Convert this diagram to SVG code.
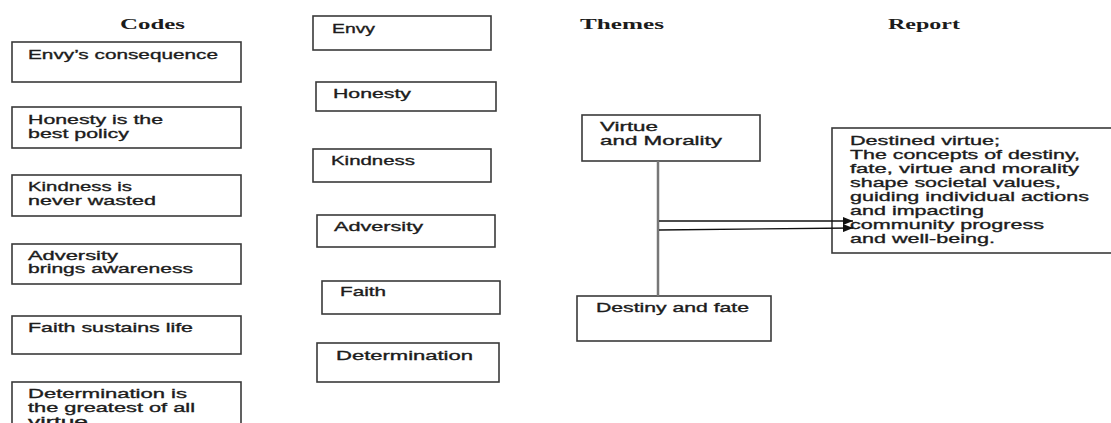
<svg xmlns="http://www.w3.org/2000/svg" width="1111" height="423" viewBox="0 0 1111 423">
<style>
.box{fill:#fff;stroke:#3a3a3a;stroke-width:1.6}
.t{font-family:"Liberation Sans",Arial,sans-serif;font-size:13.5px;fill:#1c1c1c;stroke:#1c1c1c;stroke-width:0.35}
.h{font-family:"Liberation Serif","Times New Roman",serif;font-size:15px;font-weight:bold;fill:#1c1c1c}
.conn{stroke:#777;stroke-width:2.5;fill:none}
.arr{stroke:#111;stroke-width:1.3;fill:none;marker-end:url(#ah)}
</style>
<defs>
<marker id="ah" markerWidth="10" markerHeight="8" refX="10" refY="4" orient="auto" markerUnits="userSpaceOnUse">
<path d="M0,0 L10,4 L0,8 Z" fill="#111"/>
</marker>
</defs>
<rect width="1111" height="423" fill="#fff"/>
<g id="titles">
<text class="h" x="120" y="29" textLength="65" lengthAdjust="spacingAndGlyphs">Codes</text>
<text class="h" x="580" y="29" textLength="84" lengthAdjust="spacingAndGlyphs">Themes</text>
<text class="h" x="888" y="29" textLength="72" lengthAdjust="spacingAndGlyphs">Report</text>
</g>
<g id="code1"><rect class="box" x="12" y="42" width="229" height="40"/>
<text class="t" x="28" y="59" textLength="190" lengthAdjust="spacingAndGlyphs">Envy’s consequence</text></g>
<g id="code2"><rect class="box" x="12" y="107" width="229" height="41"/>
<text class="t" x="28" y="124" textLength="135" lengthAdjust="spacingAndGlyphs">Honesty is the</text>
<text class="t" x="28" y="138" textLength="101" lengthAdjust="spacingAndGlyphs">best policy</text></g>
<g id="code3"><rect class="box" x="12" y="175" width="229" height="41"/>
<text class="t" x="28" y="191" textLength="104" lengthAdjust="spacingAndGlyphs">Kindness is</text>
<text class="t" x="28" y="205" textLength="128" lengthAdjust="spacingAndGlyphs">never wasted</text></g>
<g id="code4"><rect class="box" x="12" y="244" width="229" height="40"/>
<text class="t" x="28" y="260" textLength="90" lengthAdjust="spacingAndGlyphs">Adversity</text>
<text class="t" x="28" y="273" textLength="165" lengthAdjust="spacingAndGlyphs">brings awareness</text></g>
<g id="code5"><rect class="box" x="12" y="316" width="229" height="38"/>
<text class="t" x="28" y="332" textLength="165" lengthAdjust="spacingAndGlyphs">Faith sustains life</text></g>
<g id="code6"><rect class="box" x="12" y="382" width="229" height="50"/>
<text class="t" x="28" y="398" textLength="159" lengthAdjust="spacingAndGlyphs">Determination is</text>
<text class="t" x="28" y="412" textLength="167" lengthAdjust="spacingAndGlyphs">the greatest of all</text>
<text class="t" x="28" y="426" textLength="60" lengthAdjust="spacingAndGlyphs">virtue</text></g>
<g id="cat1"><rect class="box" x="313" y="16" width="178" height="34"/>
<text class="t" x="332" y="33" textLength="43" lengthAdjust="spacingAndGlyphs">Envy</text></g>
<g id="cat2"><rect class="box" x="316" y="82" width="180" height="29"/>
<text class="t" x="333" y="98" textLength="78" lengthAdjust="spacingAndGlyphs">Honesty</text></g>
<g id="cat3"><rect class="box" x="313" y="149" width="178" height="33"/>
<text class="t" x="331" y="165" textLength="84" lengthAdjust="spacingAndGlyphs">Kindness</text></g>
<g id="cat4"><rect class="box" x="317" y="215" width="178" height="32"/>
<text class="t" x="334" y="231" textLength="89" lengthAdjust="spacingAndGlyphs">Adversity</text></g>
<g id="cat5"><rect class="box" x="322" y="281" width="178" height="33"/>
<text class="t" x="340" y="296" textLength="46" lengthAdjust="spacingAndGlyphs">Faith</text></g>
<g id="cat6"><rect class="box" x="317" y="343" width="182" height="39"/>
<text class="t" x="336" y="360" textLength="137" lengthAdjust="spacingAndGlyphs">Determination</text></g>
<g id="theme1"><rect class="box" x="582" y="115" width="178" height="46"/>
<text class="t" x="600" y="131" textLength="58" lengthAdjust="spacingAndGlyphs">Virtue</text>
<text class="t" x="600" y="145" textLength="122" lengthAdjust="spacingAndGlyphs">and Morality</text></g>
<g id="theme2"><rect class="box" x="577" y="296" width="194" height="45"/>
<text class="t" x="596" y="312" textLength="153" lengthAdjust="spacingAndGlyphs">Destiny and fate</text></g>
<g id="report"><rect class="box" x="832" y="128" width="290" height="125"/>
<text class="t" x="850" y="145" textLength="150" lengthAdjust="spacingAndGlyphs">Destined virtue;</text>
<text class="t" x="850" y="159" textLength="230" lengthAdjust="spacingAndGlyphs">The concepts of destiny,</text>
<text class="t" x="850" y="173" textLength="229" lengthAdjust="spacingAndGlyphs">fate, virtue and morality</text>
<text class="t" x="850" y="187" textLength="211" lengthAdjust="spacingAndGlyphs">shape societal values,</text>
<text class="t" x="850" y="201" textLength="239" lengthAdjust="spacingAndGlyphs">guiding individual actions</text>
<text class="t" x="850" y="215" textLength="134" lengthAdjust="spacingAndGlyphs">and impacting</text>
<text class="t" x="850" y="229" textLength="194" lengthAdjust="spacingAndGlyphs">community progress</text>
<text class="t" x="850" y="243" textLength="145" lengthAdjust="spacingAndGlyphs">and well-being.</text></g>
<g id="connectors">
<line class="conn" x1="658" y1="161" x2="658" y2="296"/>
<line class="arr" x1="659" y1="221" x2="853" y2="221"/>
<line class="arr" x1="659" y1="230" x2="853" y2="228"/>
</g>
</svg>
